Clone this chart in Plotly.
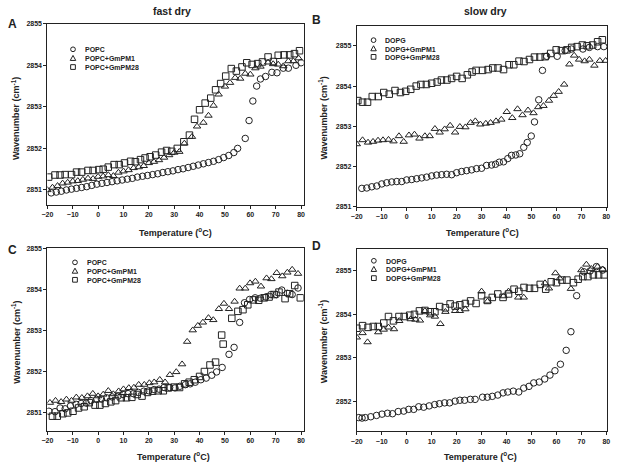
import plotly.graph_objects as go

W, H = 617, 467
FONT = "Arial, 'Liberation Sans', sans-serif"
INK = "#222222"

# ---------------- data ----------------
# Panel A : fast dry, POPC
A_POPC_x = [-18.5, -16.5, -14.5, -12.5, -10.5, -8.5, -6.5, -4.5, -2.5, -0.5, 1.5, 3.5, 5.5, 7.5, 9.5, 11.5, 13.5, 15.5, 17.5, 19.5,
            21.5, 23.5, 25.5, 27.5, 29.5, 31.5, 33.5, 35.5, 37.5, 39.5, 41.5, 43.5, 45.5, 47.5, 49.5, 51.5, 53.5,
            55, 58, 59.5, 61, 62.5, 64, 66, 68.5, 70.5, 73, 75, 78, 80]
A_POPC_y = [2850.93, 2850.95, 2850.97, 2851.00, 2851.02, 2851.04, 2851.06, 2851.08, 2851.11, 2851.14,
            2851.16, 2851.18, 2851.20, 2851.22, 2851.24, 2851.26, 2851.28, 2851.31, 2851.33, 2851.35,
            2851.37, 2851.39, 2851.42, 2851.44, 2851.46, 2851.49, 2851.51, 2851.54, 2851.57, 2851.60,
            2851.63, 2851.66, 2851.69, 2851.73, 2851.78, 2851.83, 2851.90,
            2852.00, 2852.24, 2852.67, 2853.14, 2853.50, 2853.67, 2853.73, 2853.83, 2853.82, 2853.93, 2853.93, 2854.00, 2854.06]
A_PM1_x = [-20, -18, -16, -14, -12, -10, -8, -6, -4, -2, 0, 2, 4, 6, 8, 10, 12, 14, 16, 18, 20, 22, 24, 26, 28, 30, 32, 34,
           37, 39, 41.5, 43.5, 45.5, 47.5, 50, 52, 54, 56, 58, 60, 62, 64, 67, 69, 71, 73, 75, 77, 79]
A_PM1_y = [2851.00, 2851.06, 2851.10, 2851.16, 2851.18, 2851.21, 2851.22, 2851.25, 2851.28, 2851.27,
           2851.32, 2851.33, 2851.36, 2851.34, 2851.42, 2851.45, 2851.48, 2851.53, 2851.55, 2851.58,
           2851.65, 2851.68, 2851.72, 2851.78, 2851.84, 2851.90, 2851.92, 2852.12,
           2852.28, 2852.53, 2852.62, 2852.79, 2853.03, 2853.30, 2853.49, 2853.58, 2853.70, 2853.68, 2853.80, 2853.78,
           2853.93, 2853.97, 2854.07, 2854.03, 2854.02, 2853.98, 2854.10, 2854.10, 2854.17]
A_PM28_x = [-19.5, -17, -15, -13, -10.5, -8.5, -6.5, -4, -2, 0.3, 2, 4, 6.3, 8.3, 10.4, 12.8, 14.7, 16.7, 18.5, 20.5,
            22.7, 25, 27, 29, 31.2, 33.8, 36, 38, 40, 42.2, 44.4, 46.3, 48.3, 50.3, 52.5, 54.5, 56.7, 58.6, 60.7, 62.9,
            64.8, 67, 69.1, 71, 73.3, 75.5, 77.4, 79.4]
A_PM28_y = [2851.31, 2851.36, 2851.36, 2851.37, 2851.37, 2851.43, 2851.43, 2851.47, 2851.47, 2851.49,
            2851.50, 2851.55, 2851.61, 2851.61, 2851.65, 2851.69, 2851.68, 2851.73, 2851.77, 2851.80,
            2851.84, 2851.91, 2851.95, 2851.93, 2852.00, 2852.16, 2852.32, 2852.70, 2852.93, 2853.09,
            2853.21, 2853.41, 2853.56, 2853.74, 2853.92, 2853.86, 2853.96, 2854.06, 2854.02, 2854.04,
            2854.08, 2854.20, 2854.09, 2854.24, 2854.25, 2854.25, 2854.28, 2854.35]

# Panel B : slow dry, DOPG
B_DOPG_x = [-18, -16, -14, -12, -10, -8, -6, -4, -2, 0, 2, 4, 6, 8, 10, 12, 14, 16, 18, 20, 22, 24, 26, 28, 30, 32, 34,
            35.6, 37.1, 38.8, 40.5, 42, 43.7, 45.3, 46.9, 48.3, 49.9, 51.2, 52.9, 54.4, 56.1, 60.3, 63.5, 66, 70.6, 73.2, 76.5, 79]
B_DOPG_y = [2851.46, 2851.47, 2851.50, 2851.52, 2851.57, 2851.60, 2851.62, 2851.63, 2851.63, 2851.67,
            2851.68, 2851.70, 2851.72, 2851.74, 2851.77, 2851.79, 2851.80, 2851.81, 2851.80, 2851.85,
            2851.88, 2851.90, 2851.92, 2851.95, 2851.96, 2852.03, 2852.04,
            2852.06, 2852.11, 2852.12, 2852.20, 2852.28, 2852.29, 2852.32, 2852.48, 2852.60, 2852.76, 2853.11,
            2853.66, 2854.39, 2854.74, 2854.74, 2854.88, 2854.92, 2854.92, 2854.96, 2854.98, 2854.98]
B_PM1_x = [-20, -17.7, -15.5, -13.5, -11.5, -9.5, -7.3, -5.3, -3.1, -1.2, 0.9, 3.1, 5.1, 7.3, 9.2, 11.3, 13.2, 15.2, 17.4, 19.4,
           21.3, 23.5, 25.6, 27.5, 29.5, 31.7, 33.6, 35.8, 37.9, 40.1, 42.3, 44.4, 46.4, 48.6, 50.8, 52.7, 54.8, 57, 58.9, 60.9,
           63.1, 65.2, 67.1, 69.1, 71.3, 73.2, 75.2, 77.4, 79.7]
B_PM1_y = [2852.56, 2852.66, 2852.60, 2852.62, 2852.65, 2852.66, 2852.67, 2852.63, 2852.76, 2852.62,
           2852.78, 2852.80, 2852.70, 2852.76, 2852.76, 2852.94, 2852.85, 2852.93, 2853.02, 2852.85,
           2852.99, 2852.98, 2853.09, 2853.13, 2853.05, 2853.07, 2853.09, 2853.13, 2853.17, 2853.36,
           2853.21, 2853.43, 2853.28, 2853.40, 2853.33, 2853.48, 2853.51, 2853.64, 2853.76, 2853.86,
           2854.04, 2854.54, 2854.76, 2854.66, 2854.62, 2854.66, 2854.51, 2854.63, 2854.63]
B_PM28_x = [-19.6, -17.7, -15.7, -13.8, -11.4, -9.2, -7, -4.7, -2.5, -0.4, 1.6, 3.8, 5.7, 7.9, 10, 12.2, 13.9, 16.1, 18, 20,
            22.2, 24.3, 26.2, 27.8, 30.4, 32.6, 34.5, 36.6, 38.8, 41, 42.9, 45, 47, 49.2, 51.2, 53.4, 55.5, 57.7, 59.9, 62,
            64.2, 66.1, 68.3, 70.4, 72.3, 74.5, 76.5, 78.4]
B_PM28_y = [2853.64, 2853.60, 2853.60, 2853.74, 2853.74, 2853.84, 2853.80, 2853.89, 2853.84, 2853.87,
            2853.92, 2854.00, 2854.04, 2854.04, 2854.07, 2854.10, 2854.15, 2854.15, 2854.19, 2854.24,
            2854.19, 2854.28, 2854.35, 2854.39, 2854.39, 2854.41, 2854.45, 2854.45, 2854.41, 2854.53,
            2854.53, 2854.62, 2854.61, 2854.66, 2854.72, 2854.72, 2854.73, 2854.81, 2854.90, 2854.88,
            2854.90, 2854.96, 2854.98, 2855.02, 2855.00, 2855.02, 2855.10, 2855.15]

# Panel C : fast dry, POPC (second set)
C_POPC_x = [-19.4, -17, -15, -13, -10.9, -8.7, -6.7, -4.7, -2.8, -0.6, 1.3, 3.3, 5.5, 7.9, 9.8, 11.8, 13.9, 15.9, 18, 20,
            22.1, 24, 26, 28.2, 30.3, 32.2, 34.4, 36.3, 38.3, 40.5, 42.6, 44.8, 46.7, 48.9, 51.6, 53.6, 55.8, 57.7, 59.7, 61.9,
            64, 66.1, 68.1, 70.3, 72.4, 74.6, 76.5, 78.8]
C_POPC_y = [2851.02, 2851.01, 2851.10, 2851.08, 2851.15, 2851.19, 2851.21, 2851.22, 2851.28, 2851.31,
            2851.32, 2851.35, 2851.37, 2851.39, 2851.43, 2851.45, 2851.45, 2851.48, 2851.51, 2851.52,
            2851.55, 2851.56, 2851.60, 2851.60, 2851.59, 2851.63, 2851.67, 2851.69, 2851.73, 2851.79,
            2851.83, 2851.90, 2851.98, 2852.09, 2852.41, 2852.58, 2853.19, 2853.67, 2853.75, 2853.79,
            2853.78, 2853.81, 2853.87, 2853.87, 2853.98, 2853.90, 2853.87, 2854.03]
C_PM1_x = [-19, -16.8, -14.6, -12.5, -10.5, -8.6, -6.4, -4.2, -2.1, 0, 2, 4, 6, 8.1, 10, 12.1, 14.1, 16, 18.2,
           20.2, 22.1, 24.3, 26.4, 28.3, 30.8, 33.1, 35.1, 37.3, 39.3, 41.3, 43.5, 45.4, 47.6, 49.6, 51.6, 53.8, 55.8, 58, 59.9,
           62, 64.2, 66.4, 68.3, 70.4, 72.6, 74.6, 76.5, 78.8]
C_PM1_y = [2851.23, 2851.28, 2851.25, 2851.31, 2851.28, 2851.36, 2851.35, 2851.39, 2851.45,
           2851.39, 2851.43, 2851.52, 2851.44, 2851.51, 2851.56, 2851.59, 2851.60, 2851.67, 2851.67,
           2851.71, 2851.73, 2851.79, 2851.73, 2851.91, 2851.98, 2852.17, 2852.72, 2853.00, 2853.11,
           2853.19, 2853.30, 2853.25, 2853.52, 2853.65, 2853.52, 2853.70, 2854.02, 2854.02, 2854.15,
           2854.19, 2854.07, 2854.27, 2854.25, 2854.40, 2854.32, 2854.41, 2854.48, 2854.38]
C_PM28_x = [-18, -16.1, -13.9, -12, -9.9, -7.7, -5.5, -3.5, -1.2, 0.7, 2.9, 5, 6.9, 9.1, 11.2, 13.3, 15.4, 17.3, 19.5, 21.5,
            23.7, 25.7, 27.7, 29.9, 32.1, 34.1, 35.9, 37.9, 40, 41.9, 44.1, 46.3, 48.7, 49.3, 52.7, 55.1, 57.1, 59, 61.2, 63.3,
            65.5, 67.4, 69.4, 71.3, 73.7, 75.5, 77.5, 79.7]
C_PM28_y = [2850.90, 2850.90, 2850.96, 2850.98, 2851.02, 2851.10, 2851.13, 2851.23, 2851.17, 2851.17,
            2851.21, 2851.25, 2851.28, 2851.35, 2851.35, 2851.36, 2851.43, 2851.39, 2851.48, 2851.51,
            2851.52, 2851.52, 2851.59, 2851.61, 2851.60, 2851.69, 2851.73, 2851.79, 2851.87, 2851.99,
            2852.15, 2852.22, 2852.88, 2852.66, 2853.29, 2853.46, 2853.50, 2853.62, 2853.74, 2853.73,
            2853.79, 2853.81, 2853.87, 2853.93, 2853.77, 2853.89, 2854.09, 2853.79]

# Panel D : slow dry, DOPG (second set)
D_DOPG_x = [-19.2, -17.9, -16.6, -14.4, -12.1, -9.9, -7.7, -5.7, -3.4, -1.2, 0.8, 2.8, 4.8, 6.8, 9, 11.2, 13.1, 15.2, 17.2, 19.4,
            21.3, 23.2, 25.5, 27.4, 30.4, 32.3, 34.3, 36.5, 38.6, 40.5, 42.7, 44.9, 46.9, 49, 50.9, 53.1, 55.3, 57.4, 59.4, 61.6,
            63.9, 65.8, 68.1, 71, 73.5, 76, 78.5]
D_DOPG_y = [2851.62, 2851.61, 2851.62, 2851.64, 2851.67, 2851.70, 2851.72, 2851.71, 2851.76, 2851.77,
            2851.81, 2851.81, 2851.87, 2851.86, 2851.89, 2851.92, 2851.94, 2851.96, 2851.96, 2852.00,
            2852.02, 2852.02, 2852.04, 2852.04, 2852.09, 2852.09, 2852.11, 2852.14, 2852.19, 2852.21,
            2852.23, 2852.21, 2852.30, 2852.34, 2852.42, 2852.44, 2852.51, 2852.60, 2852.70, 2852.85,
            2853.17, 2853.60, 2854.43, 2854.98, 2855.00, 2855.10, 2855.02]
D_PM1_x = [-20, -17.7, -15.7, -11.4, -9.2, -7.3, -5.1, -3, 1.6, 3.5, 5.3, 7.3, 9.4, 11.3, 13.5, 15.5, 19.4, 21.3, 23.5, 30,
           32.4, 38.8, 40.8, 44.7, 46.9, 55.4, 57, 59.6, 61.3, 65.8, 70, 72, 74, 76.5, 78.5]
D_PM1_y = [2853.47, 2853.57, 2853.36, 2853.59, 2853.65, 2853.70, 2853.66, 2853.85, 2853.89, 2853.88,
           2853.86, 2854.08, 2853.98, 2853.95, 2853.78, 2854.06, 2854.08, 2854.08, 2854.12, 2854.53,
           2854.30, 2854.42, 2854.53, 2854.39, 2854.39, 2854.72, 2854.60, 2854.95, 2854.83, 2854.59,
           2855.02, 2855.15, 2855.05, 2855.10, 2855.04]
D_PM28_x = [-20, -17.7, -15.5, -13.4, -11.4, -9.2, -7.3, -5.3, -3.1, -1, 1.2, 3.1, 5.1, 7.3, 9.4, 11.3, 13.2, 15.5, 17.4, 19.4,
            21.3, 23.5, 25.6, 27.8, 30, 32.3, 34.3, 36.5, 38.6, 40.8, 43, 44.9, 47, 49.2, 51.2, 53.5, 55.7, 57.9, 60, 62.2,
            64.2, 66.8, 68.7, 70.6, 72.6, 74.8, 76.9, 79.1]
D_PM28_y = [2853.68, 2853.74, 2853.70, 2853.72, 2853.72, 2853.80, 2853.95, 2853.85, 2853.95, 2853.95,
            2853.98, 2854.00, 2854.08, 2854.09, 2854.06, 2854.06, 2854.18, 2854.15, 2854.24, 2854.19,
            2854.22, 2854.25, 2854.31, 2854.25, 2854.43, 2854.32, 2854.39, 2854.47, 2854.39, 2854.47,
            2854.58, 2854.53, 2854.62, 2854.60, 2854.60, 2854.69, 2854.58, 2854.75, 2854.73, 2854.79,
            2854.79, 2854.73, 2854.81, 2854.87, 2854.87, 2854.91, 2854.91, 2854.91]

X_TICKS = [-20, -10, 0, 10, 20, 30, 40, 50, 60, 70, 80]
Y_TICKS_ABC = [2851, 2852, 2853, 2854, 2855]
Y_TICKS_D = [2852, 2853, 2854, 2855]

NAMES_POPC = ["POPC", "POPC+GmPM1", "POPC+GmPM28"]
NAMES_DOPG = ["DOPG", "DOPG+GmPM1", "DOPG+GmPM28"]
PANEL_TITLES = ["fast dry", "slow dry"]
PANEL_LETTERS = ["A", "B", "C", "D"]
X_TITLE = "Temperature (<sup>o</sup>C)"
Y_TITLE = "Wavenumber (cm<sup>-1</sup>)"

SYMBOLS = ["circle-open", "triangle-up-open", "square-open"]


def px(x):
    return x / W


def py(y):
    return 1 - y / H


# panel geometry in pixels: (left, right, top, bottom), axis ranges
panels = [
    dict(box=(42, 302, 20, 204), xr=[-20, 81], yr=[2850.64, 2855.0], yt=Y_TICKS_ABC,
         series=[(A_POPC_x, A_POPC_y), (A_PM1_x, A_PM1_y), (A_PM28_x, A_PM28_y)], names=NAMES_POPC,
         leg=dict(sx=68, tx=79, ys=[46, 55, 64]), ytitle=(10, 116), xtitle=(172, 231), letter=(7, 20)),
    dict(box=(356, 610, 22, 206), xr=[-20, 80.3], yr=[2851.0, 2855.5], yt=Y_TICKS_ABC,
         series=[(B_DOPG_x, B_DOPG_y), (B_PM1_x, B_PM1_y), (B_PM28_x, B_PM28_y)], names=NAMES_DOPG,
         leg=dict(sx=373, tx=384, ys=[36.7, 45.2, 53.7]), ytitle=(322, 116), xtitle=(484, 231), letter=(315, 16)),
    dict(box=(42, 302, 248, 433), xr=[-20, 81], yr=[2850.55, 2855.0], yt=Y_TICKS_ABC,
         series=[(C_POPC_x, C_POPC_y), (C_PM1_x, C_PM1_y), (C_PM28_x, C_PM28_y)], names=NAMES_POPC,
         leg=dict(sx=70, tx=81.5, ys=[262.3, 271, 280]), ytitle=(10, 343), xtitle=(170, 459), letter=(7, 250)),
    dict(box=(356, 610, 249, 434), xr=[-20, 80.3], yr=[2851.3, 2855.5], yt=Y_TICKS_D,
         series=[(D_DOPG_x, D_DOPG_y), (D_PM1_x, D_PM1_y), (D_PM28_x, D_PM28_y)], names=NAMES_DOPG,
         leg=dict(sx=373.3, tx=385, ys=[260.7, 269.2, 278.3]), ytitle=(322, 343), xtitle=(482, 459), letter=(315, 246)),
]

fig = go.Figure()
annotations = []
shapes = []
layout_axes = {}

for i, p in enumerate(panels):
    n = "" if i == 0 else str(i + 1)
    xa, ya = "x" + n, "y" + n
    l, r, t, b = p["box"]
    for (xs, ys), sym, name in zip(p["series"], SYMBOLS, p["names"]):
        fig.add_trace(go.Scatter(
            x=xs, y=ys, mode="markers", name=name, showlegend=False,
            xaxis=xa, yaxis=ya,
            marker=dict(symbol=sym, size=6.5, color=INK, line=dict(width=1, color=INK)),
        ))
    common = dict(showline=True, linecolor=INK, linewidth=1, mirror=True, ticks="outside",
                  ticklen=3, tickwidth=1, tickcolor=INK, showgrid=False, zeroline=False,
                  tickfont=dict(family=FONT, size=7, color=INK, weight="bold"))
    layout_axes["xaxis" + n] = dict(common, domain=[px(l), px(r)], range=p["xr"], tickvals=X_TICKS,
                                    anchor=ya)
    layout_axes["yaxis" + n] = dict(common, domain=[py(b), py(t)], range=p["yr"], tickvals=p["yt"],
                                    anchor=xa)

    # axis titles
    annotations.append(dict(x=px(p["ytitle"][0]), y=py(p["ytitle"][1]), xref="paper", yref="paper",
                            text=Y_TITLE, textangle=-90, showarrow=False,
                            font=dict(family=FONT, size=9, color=INK, weight="bold"),
                            xanchor="center", yanchor="middle"))
    annotations.append(dict(x=px(p["xtitle"][0]), y=py(p["xtitle"][1]), xref="paper", yref="paper",
                            text=X_TITLE, showarrow=False,
                            font=dict(family=FONT, size=9, color=INK, weight="bold"),
                            xanchor="center", yanchor="middle"))
    # panel letter
    annotations.append(dict(x=px(p["letter"][0]), y=py(p["letter"][1]), xref="paper", yref="paper",
                            text=PANEL_LETTERS[i], showarrow=False,
                            font=dict(family=FONT, size=12, color=INK, weight="bold"),
                            xanchor="center", yanchor="middle"))
    # compact legend
    lg = p["leg"]
    for k, (name, yy) in enumerate(zip(p["names"], lg["ys"])):
        annotations.append(dict(x=px(lg["tx"]), y=py(yy), xref="paper", yref="paper", text=name,
                                showarrow=False, xanchor="left", yanchor="middle", height=8, borderpad=0,
                                font=dict(family=FONT, size=7, color=INK, weight="bold")))
        cx, cy, s = lg["sx"], yy, 2.4
        if k == 0:
            shapes.append(dict(type="circle", xref="paper", yref="paper",
                               x0=px(cx - s), x1=px(cx + s), y0=py(cy + s), y1=py(cy - s),
                               line=dict(color=INK, width=1)))
        elif k == 1:
            path = "M {:.5f},{:.5f} L {:.5f},{:.5f} L {:.5f},{:.5f} Z".format(
                px(cx), py(cy - 2.8), px(cx - 2.8), py(cy + 2.3), px(cx + 2.8), py(cy + 2.3))
            shapes.append(dict(type="path", xref="paper", yref="paper", path=path,
                               line=dict(color=INK, width=1)))
        else:
            shapes.append(dict(type="rect", xref="paper", yref="paper",
                               x0=px(cx - s), x1=px(cx + s), y0=py(cy + s), y1=py(cy - s),
                               line=dict(color=INK, width=1)))

# column titles
for title, cx in zip(PANEL_TITLES, [168, 487]):
    annotations.append(dict(x=px(cx), y=py(7), xref="paper", yref="paper", text=title, showarrow=False,
                            font=dict(family=FONT, size=10.5, color=INK, weight="bold"),
                            xanchor="center", yanchor="middle"))

fig.update_layout(
    width=W, height=H,
    margin=dict(l=0, r=0, t=0, b=0),
    paper_bgcolor="white", plot_bgcolor="white",
    showlegend=False,
    annotations=annotations,
    shapes=shapes,
    **layout_axes,
)

fig.write_html("out.html", config={"displayModeBar": False},
               post_script="document.body.style.margin='0px';")
